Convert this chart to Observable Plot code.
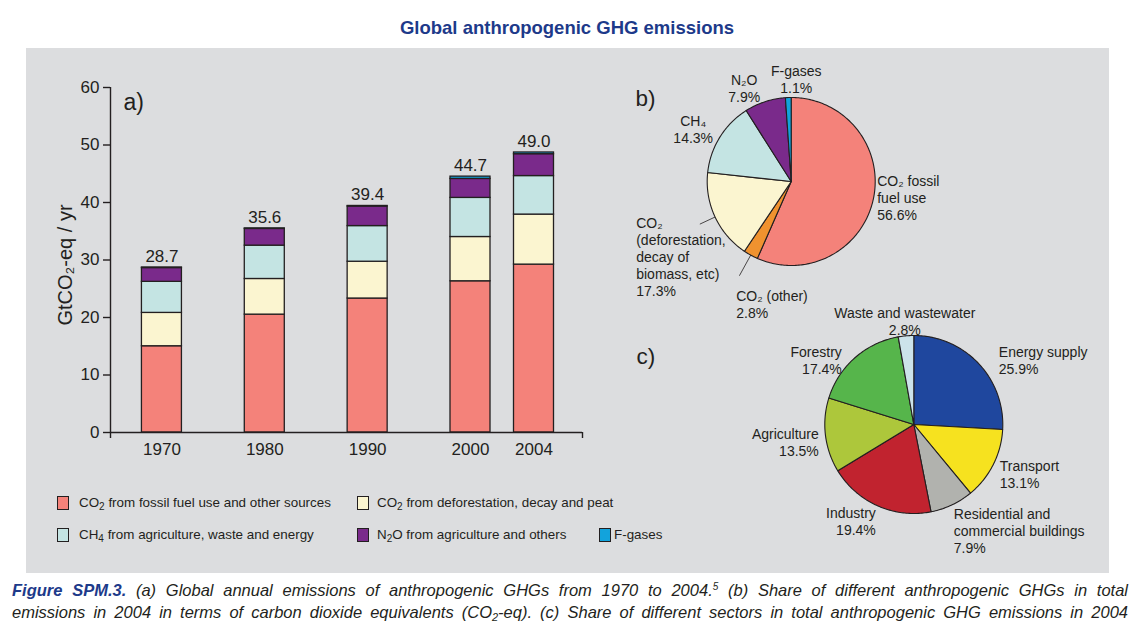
<!DOCTYPE html>
<html>
<head>
<meta charset="utf-8">
<script src="https://cdn.jsdelivr.net/npm/d3@7"></script>
<script src="https://cdn.jsdelivr.net/npm/@observablehq/plot@0.6"></script>
<style>
  body { margin: 0; background: #fff; font-family: "Liberation Sans", Arial, Helvetica, sans-serif; color: #231f20; }
  #page { position: relative; width: 1136px; height: 628px; overflow: hidden; background: #fff; }
  #title { position: absolute; left: 0; top: 17px; width: 1134px; text-align: center; font-weight: bold; font-size: 18.5px; color: #1d3a8a; }
  #panel { position: absolute; left: 26px; top: 48px; width: 1083px; height: 525px; background: #dcdddf; }
  .holder { position: absolute; }
  .sw { position: absolute; width: 10px; height: 12px; border: 1px solid #231f20; }
  .lt { position: absolute; font-size: 13.4px; white-space: nowrap; line-height: 16px; }
  .lt sub { font-size: 10px; vertical-align: -3px; line-height: 0; }
  .cap { position: absolute; left: 12px; width: 1116px; font-style: italic; font-size: 16.5px; white-space: nowrap; text-align: justify; text-align-last: justify; line-height: 20px; }
  .cap b { color: #1d3a8a; }
  .cap sub { font-size: 11px; vertical-align: -3px; line-height: 0; }
  .cap sup { font-size: 10px; vertical-align: 6px; line-height: 0; }
</style>
</head>
<body>
<div id="page">
  <div id="title">Global anthropogenic GHG emissions</div>
  <div id="panel"></div>
  <div id="bars" class="holder" style="left:0px;top:0px;"></div>
  <div id="pieB" class="holder" style="left:620px;top:55px;"></div>
  <div id="pieC" class="holder" style="left:620px;top:295px;"></div>
  <div id="legend"></div>
  <div class="cap" style="top:580px;"><b>Figure SPM.3.</b> (a) Global annual emissions of anthropogenic GHGs from 1970 to 2004.<sup>5</sup> (b) Share of different anthropogenic GHGs in total</div>
  <div class="cap" style="top:602px;">emissions in 2004 in terms of carbon dioxide equivalents (CO<sub>2</sub>-eq). (c) Share of different sectors in total anthropogenic GHG emissions in 2004</div>
</div>
<script>
// ---------------- DATA ----------------
const years = [1970, 1980, 1990, 2000, 2004];
const totalLabels = ["28.7", "35.6", "39.4", "44.7", "49.0"];
const gasSeries = [
  "CO2 from fossil fuel use and other sources",
  "CO2 from deforestation, decay and peat",
  "CH4 from agriculture, waste and energy",
  "N2O from agriculture and others",
  "F-gases"
];
const co2Fossil        = [15.0, 20.5, 23.3, 26.3, 29.2];
const co2Deforestation = [5.8, 6.2, 6.4, 7.7, 8.7];
const ch4              = [5.4, 5.8, 6.2, 6.8, 6.7];
const n2o              = [2.4, 2.9, 3.4, 3.3, 3.8];
const fGases           = [0.1, 0.1, 0.1, 0.4, 0.3];
const gasColors = ["#f4827a", "#fbf5d0", "#c4e4e3", "#7a2a8b", "#12a3dc"];

// panel b: share of gases in 2004 (clockwise from 12 o'clock)
const gasShareNames = ["CO2 fossil fuel use", "CO2 (other)", "CO2 (deforestation, decay of biomass, etc)", "CH4", "N2O", "F-gases"];
const gasShareText  = ["CO₂ fossil\nfuel use", "CO₂ (other)", "CO₂\n(deforestation,\ndecay of\nbiomass, etc)", "CH₄", "N₂O", "F-gases"];
const gasShares     = [56.6, 2.8, 17.3, 14.3, 7.9, 1.1];
const gasShareColors = ["#f4827a", "#f0922f", "#fbf5d0", "#c4e4e3", "#7a2a8b", "#12a3dc"];

// panel c: share of sectors in 2004 (clockwise from 12 o'clock)
const sectorNames  = ["Energy supply", "Transport", "Residential and commercial buildings", "Industry", "Agriculture", "Forestry", "Waste and wastewater"];
const sectorText   = ["Energy supply", "Transport", "Residential and\ncommercial buildings", "Industry", "Agriculture", "Forestry", "Waste and wastewater"];
const sectorShares = [25.9, 13.1, 7.9, 19.4, 13.5, 17.4, 2.8];
const sectorColors = ["#1f479e", "#f6e21f", "#b1b2ae", "#c1232f", "#adc73b", "#56b54b", "#cce3ea"];

// ---------------- LAYOUT (not data) ----------------
const FONT = "'Liberation Sans', Arial, Helvetica, sans-serif";
const INK = "#231f20";
const BAR_PX = 40; // bar width in pixels
// label offsets (pixels from pie centre to first-line centre) and anchors
const labelLayoutB = [[86, -3, "start"], [-55, 112, "start"], [-155, 39, "start"], [-98, -63, "middle"], [-47, -104, "middle"], [5, -113, "middle"]];
const leaderB = [0, 1.28, 1.2, 0, 0, 0];
const labelLayoutC = [[85, -75, "start"], [86, 39, "start"], [40, 87, "start"], [-38, 86, "end"], [-95, 7, "end"], [-72, -75, "end"], [-9, -114, "middle"]];
const legendSwatchX = [57, 357, 57, 357, 599];
const legendTextX = [79, 377, 79, 377, 614];
const legendY = [503, 503, 535, 535, 535];

// ---------------- PANEL a: stacked bars ----------------
const xScaleOptions = {type: "linear", domain: [1965, 2000, 2004, 2007], range: [110, 470, 533.5, 582], label: null};
const xs = Plot.scale({x: xScaleOptions});
const seriesValues = [co2Fossil, co2Deforestation, ch4, n2o, fGases];
const segments = [];
const totals = [];
years.forEach((year, j) => {
  let acc = 0;
  const px = xs.apply(year);
  const x1 = xs.invert(px - BAR_PX / 2), x2 = xs.invert(px + BAR_PX / 2);
  gasSeries.forEach((gas, i) => {
    const v = seriesValues[i][j];
    segments.push({year, gas, x1, x2, y1: acc, y2: acc + v});
    acc += v;
  });
  totals.push({year, total: acc, label: totalLabels[j]});
});

const barPlot = Plot.plot({
  width: 620, height: 470,
  marginLeft: 110, marginRight: 38, marginTop: 87, marginBottom: 38,
  style: {background: "transparent", fontFamily: FONT, fontSize: "17px", color: INK},
  x: xScaleOptions,
  y: {domain: [0, 60], label: null},
  color: {domain: gasSeries, range: gasColors},
  marks: [
    Plot.rect(segments, {x1: "x1", x2: "x2", y1: "y1", y2: "y2", fill: "gas", stroke: INK, strokeWidth: 1.3}),
    Plot.ruleY([0], {stroke: INK, strokeWidth: 1.4}),
    Plot.ruleX([1965], {y1: 0, y2: 60, stroke: INK, strokeWidth: 1.4}),
    Plot.axisY({ticks: [0, 10, 20, 30, 40, 50, 60], tickSize: 7, tickPadding: 4, fontSize: 17, stroke: INK, strokeWidth: 1.4, label: null}),
    Plot.axisX({ticks: years, tickSize: 0, tickPadding: 10, tickFormat: d => String(d), fontSize: 17, label: null}),
    Plot.axisX({ticks: [1965, 2007], tickSize: 6, tickFormat: () => "", stroke: INK, strokeWidth: 1.4, label: null}),
    Plot.text(totals, {x: "year", y: "total", text: "label", dy: -11, lineAnchor: "middle", fontSize: 17, fill: INK}),
    Plot.text(["a)"], {frameAnchor: "top-left", text: d => d, dx: 13, dy: 6, fontSize: 23, textAnchor: "start", fill: INK}),
    Plot.text(["GtCO₂-eq / yr"], {frameAnchor: "left", text: d => d, dx: -45, dy: 5, rotate: -90, textAnchor: "middle", lineAnchor: "middle", fontSize: 20, fill: INK})
  ]
});
document.getElementById("bars").appendChild(barPlot);

// ---------------- pies ----------------
function arcRows(names, shares) {
  const total = d3.sum(shares);
  let acc = 0;
  const rows = [];
  names.forEach((name, i) => {
    const a0 = acc / total * 2 * Math.PI;
    acc += shares[i];
    const a1 = acc / total * 2 * Math.PI;
    const n = Math.max(2, Math.ceil((a1 - a0) / (Math.PI / 180)));
    rows.push({name, x: 0, y: 0});
    for (let k = 0; k <= n; k++) {
      const a = a0 + (a1 - a0) * k / n;
      rows.push({name, x: Math.sin(a), y: Math.cos(a)});
    }
    rows.push({name, x: 0, y: 0});
  });
  return rows;
}
function midAngles(shares) {
  const total = d3.sum(shares);
  let acc = 0;
  return shares.map(s => { const m = (acc + s / 2) / total * 2 * Math.PI; acc += s; return m; });
}

function piePlot({names, texts, shares, colors, layout, leaders, cx, cy, r, width, height, tag, tagDx, tagDy}) {
  const labels = names.map((name, i) => ({
    name,
    x: layout[i][0] / r,
    y: -(layout[i][1] - 5) / r,
    anchor: layout[i][2],
    text: texts[i] + "\n" + shares[i].toFixed(1) + "%"
  }));
  const mids = midAngles(shares);
  const leaderRows = [];
  (leaders || []).forEach((L, i) => {
    if (L > 0) leaderRows.push({x1: Math.sin(mids[i]), y1: Math.cos(mids[i]), x2: L * Math.sin(mids[i]), y2: L * Math.cos(mids[i])});
  });
  const textMark = anchor => Plot.text(labels.filter(d => d.anchor === anchor), {
    x: "x", y: "y", text: "text", textAnchor: anchor, lineAnchor: "top", lineHeight: 1.22, fontSize: 14, fill: INK
  });
  return Plot.plot({
    width, height, margin: 0,
    style: {background: "transparent", fontFamily: FONT, color: INK, overflow: "visible"},
    x: {domain: [-1, 1], range: [cx - r, cx + r], axis: null},
    y: {domain: [-1, 1], range: [cy + r, cy - r], axis: null},
    color: {domain: names, range: colors},
    marks: [
      Plot.line(arcRows(names, shares), {x: "x", y: "y", z: "name", fill: "name", stroke: INK, strokeWidth: 1.1, strokeLinejoin: "round"}),
      Plot.link(leaderRows, {x1: "x1", y1: "y1", x2: "x2", y2: "y2", stroke: INK, strokeWidth: 0.8}),
      textMark("start"), textMark("middle"), textMark("end"),
      Plot.text([tag], {frameAnchor: "top-left", text: d => d, dx: tagDx, dy: tagDy, fontSize: 22.5, textAnchor: "start", fill: INK})
    ]
  });
}

document.getElementById("pieB").appendChild(piePlot({
  names: gasShareNames, texts: gasShareText, shares: gasShares, colors: gasShareColors,
  layout: labelLayoutB, leaders: leaderB, cx: 170.7, cy: 126, r: 84, width: 340, height: 270,
  tag: "b)", tagDx: 15, tagDy: 35
}));
document.getElementById("pieC").appendChild(piePlot({
  names: sectorNames, texts: sectorText, shares: sectorShares, colors: sectorColors,
  layout: labelLayoutC, leaders: null, cx: 293.3, cy: 129, r: 89, width: 490, height: 270,
  tag: "c)", tagDx: 16, tagDy: 53
}));

// ---------------- legend ----------------
const legend = document.getElementById("legend");
gasSeries.forEach((name, i) => {
  const sw = document.createElement("div");
  sw.className = "sw";
  sw.style.left = legendSwatchX[i] + "px";
  sw.style.top = (legendY[i] - 7) + "px";
  sw.style.background = gasColors[i];
  legend.appendChild(sw);
  const t = document.createElement("div");
  t.className = "lt";
  t.style.left = legendTextX[i] + "px";
  t.style.top = (legendY[i] - 8) + "px";
  t.innerHTML = name.replace(/^(CO|CH|N)(\d)/, "$1<sub>$2</sub>");
  legend.appendChild(t);
});
</script>
</body>
</html>
